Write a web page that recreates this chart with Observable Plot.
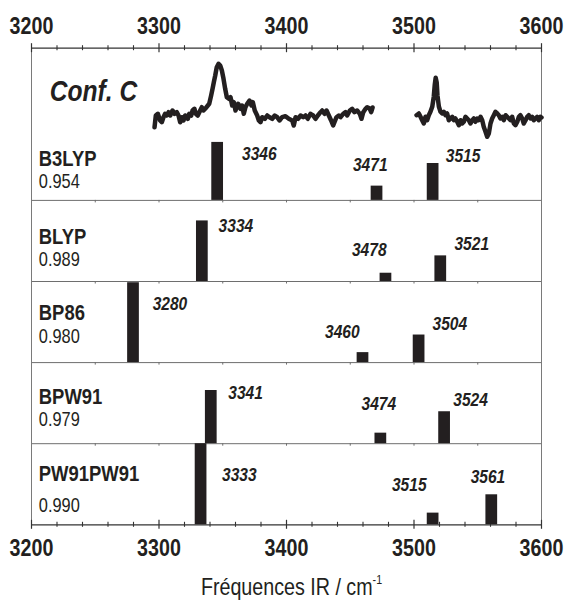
<!DOCTYPE html>
<html>
<head>
<meta charset="utf-8">
<script src="https://cdn.jsdelivr.net/npm/d3@7"></script>
<script src="https://cdn.jsdelivr.net/npm/@observablehq/plot@0.6"></script>
<style>
  body { margin: 0; background: #fff; }
  #wrap { position: relative; width: 570px; height: 601px; }
  #chart svg { display: block; }
  #xtitle {
    position: absolute; left: 6px; top: 565px; width: 570px; text-align: center;
    font-family: "Liberation Sans", Arial, sans-serif;
    font-size: 24px; line-height: 30px; color: #231f20;
  }
  #xtitle span { display: inline-block; transform: scaleX(0.82); transform-origin: 50% 50%; white-space: nowrap; }
  #xtitle sup { font-size: 13px; vertical-align: 11px; }
</style>
</head>
<body>
<div id="wrap">
  <div id="chart"></div>
  <div id="xtitle"><span>Fréquences IR / cm<sup>-1</sup></span></div>
</div>
<script>
// Functionals, their scaling factors, scaled harmonic frequencies (cm-1) and relative intensities (% of panel)
const methods = ["B3LYP", "BLYP", "BP86", "BPW91", "PW91PW91"];
const scaleFactors = ["0.954", "0.989", "0.980", "0.979", "0.990"];
const freqs = [
  [3346, 3471, 3515],
  [3334, 3478, 3521],
  [3280, 3460, 3504],
  [3341, 3474, 3524],
  [3333, 3515, 3561]
];
const intensities = [
  [71.5, 17.6, 45.5],
  [74.7, 10.2, 31.6],
  [98.5, 12.3, 34.0],
  [65.6, 13.0, 39.4],
  [100, 14.4, 37.0]
];

// Experimental IR spectrum of conformer C (two recorded windows), absorbance in arbitrary units
const specFreqA = [3296.5,3297.5,3299.1,3300.9,3302.2,3303.5,3304.8,3306.1,3307.5,3308.8,3310.6,3312.2,3314,3315.3,3316.6,3317.9,3319.2,3320.5,3322.6,3323.7,3325.3,3326.3,3327.8,3328.9,3330.4,3332.3,3333.6,3334.9,3336.2,3338.3,3339.4,3340.9,3342,3343,3344.1,3345.3,3346.7,3348,3349.3,3350.6,3351.9,3353.2,3354.8,3356.1,3357.4,3358.7,3360,3362.1,3363.9,3365.2,3366.5,3367.8,3369.2,3371,3372.5,3373.6,3375.1,3377,3378.3,3379.6,3380.9,3383,3384.9,3386.7,3388.8,3390.8,3392.7,3394.5,3396.6,3399.2,3401.8,3404.5,3405.7,3407.1,3409.2,3411,3413.1,3414.9,3416.7,3418.8,3420.9,3422.7,3424.6,3426.7,3428,3429.8,3431.4,3433.2,3435,3436.6,3437.6,3439.2,3441,3442.4,3444.5,3446.3,3447.6,3449.7,3451.5,3453.3,3455.4,3457.5,3458.8,3460.2,3462,3463.3,3465.1,3466.4,3467.5];
const specAbsA = [8.3,20,21.7,15,13.3,18.3,21.7,20,23.3,20,25,21.7,23.3,20,13.3,18.3,15,20,16.7,21.7,20,25,26.7,21.7,20,25,28.3,25,26.7,30,31.7,40,46.7,53.3,60,68.3,71.7,70,65,56.7,46.7,38.3,36.7,38.3,30,33.3,25,31.7,26.7,30,21.7,28.3,31.7,35,30,33.3,25,20,15,13.3,18.3,16.7,20,18.3,16.7,20,18.3,15,18.3,19.3,16.7,15,10,18.3,16.7,20,18.3,20,16.7,21.7,20,16.7,20,23.3,25,21.7,25,20,15,10,13.3,18.3,20,18.3,21.7,23.3,20,25,26.7,23.3,25,21.7,16.7,23.3,26.7,28.3,27.3,23.3,28];
const specFreqB = [3502,3503.8,3505.1,3506.4,3507.7,3509,3510.3,3511.6,3512.9,3514.3,3515.5,3516.3,3517,3517.8,3518.4,3519.5,3520.8,3522.1,3523.4,3524.7,3526,3527.3,3528.6,3530,3531.2,3532.5,3533.9,3535.2,3536.5,3537.8,3539.1,3540.4,3541.7,3543,3544.3,3545.7,3546.9,3548.2,3549.6,3550.8,3552.2,3553.5,3554.7,3556.1,3557.4,3558.7,3560,3561.3,3562.6,3563.9,3565.3,3566.5,3567.8,3569.2,3570.4,3571.8,3573.1,3574.4,3575.7,3577,3578.3,3579.6,3581,3582.2,3583.5,3584.9,3586.1,3587.5,3588.8,3590,3591.4,3592.7,3594,3595.3,3596.6,3597.9,3599.2,3600];
const specAbsB = [20.3,22,18.7,15.3,12,18.7,15.3,20.3,23.7,28.7,38.7,51,57.7,53,40,29,23.7,22,23.7,20.3,22,15.3,17,18.7,15.3,17,13.7,10.3,15.3,12,13.7,18.7,17,15.3,12,15.3,17,13.7,17,15.3,18.7,15.3,8.7,3.7,-1.3,2,12,17,20.3,23.7,22,20.3,17,18.7,15.3,20.3,18.7,17,15.3,18.7,12,10.3,13.7,18.7,20.3,17,12,15.3,18.7,20.3,17,18.7,15.3,17,18.7,15.3,18.7,18];

const xTicks = [3200, 3300, 3400, 3500, 3600];

// Where the annotations sit: label anchors in (cm-1, % of panel height)
const peakLabelX = [
  [3378.7, 3465.7, 3538.5],
  [3360.3, 3464.9, 3545.3],
  [3308.6, 3443.8, 3528.1],
  [3367.9, 3472.4, 3544.4],
  [3363.0, 3496.3, 3558.0]
];
const peakLabelY = [
  [57.1, 43.8, 54.9],
  [68.6, 39.2, 46.1],
  [72.1, 37.6, 48.3],
  [62.9, 48.8, 54.3],
  [61.0, 49.7, 58.7]
];
const nameY = [42.6, 46.6, 52.0, 48.5, 54.6];
const factorY = [15.4, 18.6, 24.2, 21.4, 15.5];

// Vertical layout (in plot units): stacked panels, spectrum on top
const panelH = 81.1;
const specBase = 389.3;
const yTop = 476.6;
const base = i => (methods.length - 1 - i) * panelH;
const inPanel = (i, pct) => base(i) + pct * panelH / 100;

const bars = methods.flatMap((m, i) => freqs[i].map((f, j) => ({
  i, freq: f, inten: intensities[i][j], lx: peakLabelX[i][j], ly: peakLabelY[i][j]
})));
const specA = specFreqA.map((f, k) => ({f, a: specAbsA[k]}));
const specB = specFreqB.map((f, k) => ({f, a: specAbsB[k]}));
const rows = methods.map((m, i) => ({i, m, s: scaleFactors[i]}));

const minorTicks = d3.range(3200, 3601, 20).filter(v => v % 100 !== 0);
const sepTicks = [1, 2, 3, 4].flatMap(k => d3.range(3250, 3600, 50).map(x => ({x, y: k * panelH})));

const ink = "#231f20";

const chart = Plot.plot({
  width: 570,
  height: 566,
  marginTop: 47.7,
  marginBottom: 41.7,
  marginLeft: 31,
  marginRight: 29,
  style: {fontFamily: '"Liberation Sans", Arial, sans-serif', background: "#fff", color: ink},
  x: {domain: [3200, 3600]},
  y: {domain: [0, yTop], axis: null},
  marks: [
    // panel separators and their small ticks
    Plot.ruleY([1, 2, 3, 4].map(k => k * panelH), {stroke: "#6e6e6e", strokeWidth: 1}),
    Plot.ruleX(sepTicks, {x: "x", y1: "y", y2: d => d.y - 2.5, stroke: "#6e6e6e"}),
    // frame sides
    Plot.ruleX([3200, 3600], {y1: 0, y2: yTop, stroke: "#7a7a7a", strokeWidth: 1}),
    // top and bottom axis lines with major and minor ticks
    Plot.ruleY([0, yTop], {stroke: "#333", strokeWidth: 1.3}),
    Plot.ruleX(xTicks, {y1: -4.5, y2: 4.5, stroke: "#333", strokeWidth: 1.2}),
    Plot.ruleX(xTicks, {y1: yTop - 4.5, y2: yTop + 4.5, stroke: "#333", strokeWidth: 1.2}),
    Plot.ruleX(minorTicks, {y1: -2.5, y2: 2.5, stroke: "#333", strokeWidth: 1.1}),
    Plot.ruleX(minorTicks, {y1: yTop - 2.5, y2: yTop + 2.5, stroke: "#333", strokeWidth: 1.1}),
    Plot.axisX({anchor: "top", ticks: xTicks, tickFormat: d => String(d), tickSize: 0, tickPadding: 14, fontSize: 24, fontWeight: "bold", label: null, fill: ink}),
    Plot.axisX({anchor: "bottom", ticks: xTicks, tickFormat: d => String(d), tickSize: 0, tickPadding: 14, fontSize: 24, fontWeight: "bold", label: null, fill: ink}),
    // experimental spectrum
    Plot.line(specA, {x: "f", y: d => specBase + d.a, stroke: ink, strokeWidth: 4.5, strokeLinejoin: "round", strokeLinecap: "round"}),
    Plot.line(specB, {x: "f", y: d => specBase + d.a, stroke: ink, strokeWidth: 4.5, strokeLinejoin: "round", strokeLinecap: "round"}),
    Plot.text(["Conf. C"], {frameAnchor: "left", dx: 18.3, y: [specBase + 35], text: d => d, textAnchor: "start", lineAnchor: "bottom", fontSize: 30, fontWeight: "bold", fontStyle: "italic", fill: ink}),
    // computed stick spectra
    Plot.rect(bars, {x1: d => d.freq - 4.6, x2: d => d.freq + 4.6, y1: d => base(d.i), y2: d => inPanel(d.i, d.inten), fill: ink}),
    Plot.text(bars, {x: "lx", y: d => inPanel(d.i, d.ly), text: d => String(d.freq), fontSize: 19, fontWeight: "bold", fontStyle: "italic", lineAnchor: "middle", fill: ink}),
    // functional names and scaling factors
    Plot.text(rows, {frameAnchor: "left", dx: 7.3, y: d => inPanel(d.i, nameY[d.i]), text: "m", textAnchor: "start", lineAnchor: "bottom", fontSize: 22.5, fontWeight: "bold", fill: ink}),
    Plot.text(rows, {frameAnchor: "left", dx: 7.3, y: d => inPanel(d.i, factorY[d.i]), text: "s", textAnchor: "start", lineAnchor: "bottom", fontSize: 20, fill: ink})
  ]
});

// The lettering is a narrow grotesque: condense every label horizontally about its anchor
d3.select(chart).selectAll("text").each(function () {
  const t = this.getAttribute("transform");
  if (t) {
    this.setAttribute("transform", t + " scale(0.82,1)");
  } else {
    const x = +this.getAttribute("x") || 0, y = +this.getAttribute("y") || 0;
    this.removeAttribute("x");
    this.removeAttribute("y");
    this.setAttribute("transform", `translate(${x},${y}) scale(0.82,1)`);
  }
});

document.getElementById("chart").appendChild(chart);
</script>
</body>
</html>
